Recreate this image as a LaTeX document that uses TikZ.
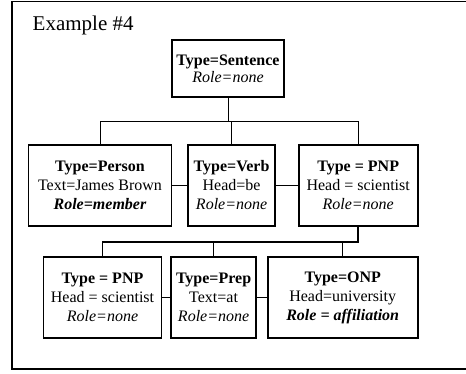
\documentclass[tikz,border=0pt]{standalone}
\usepackage{fontspec}
\setmainfont{Liberation Serif}
\usepackage{tikz}
\usetikzlibrary{positioning}

\begin{document}
\begin{tikzpicture}[x=1pt,y=-1pt,line width=0.8pt]
  \tikzstyle{box}=[draw,line width=1.6pt,align=center,minimum height=81pt,
                   inner sep=2pt,font=\fontsize{16}{19}\selectfont]
  \tikzstyle{trunk}=[line width=1.8pt]

  \useasboundingbox (0,0) rectangle (466,373);
  \draw[line width=1.6pt] (466,1.5) -- (12,1.5) -- (12,369) -- (466,369);

  \node[anchor=base west,font=\fontsize{21}{25}\selectfont] (title) at (29,30) {Example \#4};

  \node[box,minimum width=112pt,minimum height=57pt,font=\fontsize{16}{17}\selectfont]
       (sent) at (228,68.5) {\textbf{Type=Sentence}\\\textit{Role=none}};

  \node[box,minimum width=143pt] (person) at (100,185.5)
       {\textbf{Type=Person}\\Text=James Brown\\\textbf{\textit{Role=member}}};
  \node[box,minimum width=87pt]  (verb) [right=15pt of person]
       {\textbf{Type=Verb}\\Head=be\\\textit{Role=none}};
  \node[box,minimum width=119pt] (pnp) [right=22pt of verb]
       {\textbf{Type = PNP}\\Head = scientist\\\textit{Role=none}};

  \node[box,minimum width=118pt] (pnpb) at (102.5,297.5)
       {\textbf{Type = PNP}\\Head = scientist\\\textit{Role=none}};
  \node[box,minimum width=85pt]  (prep) [right=8pt of pnpb]
       {\textbf{Type=Prep}\\Text=at\\\textit{Role=none}};
  \node[box,minimum width=150pt] (onp) [right=10pt of prep]
       {\textbf{Type=ONP}\\Head=university\\\textbf{\textit{Role = affiliation}}};

  % first level
  \coordinate (fork) at ([yshift=-24pt]sent.south);
  \draw (sent) -- (fork);
  \draw (person) |- (fork) -| (pnp);
  \draw (fork) -| (verb);

  % second level
  \coordinate (fork2) at ([yshift=-15pt]pnp.south);
  \draw (pnpb) |- (fork2);
  \draw (prep) |- (fork2);
  \draw (onp) |- (fork2);
  \draw[trunk] (pnp) -- (fork2) -- (fork2 -| pnpb);

  % siblings
  \draw (person) -- (verb);
  \draw (verb) -- (pnp);
  \draw (pnpb) -- (prep);
  \draw (prep) -- (onp);
\end{tikzpicture}
\end{document}
